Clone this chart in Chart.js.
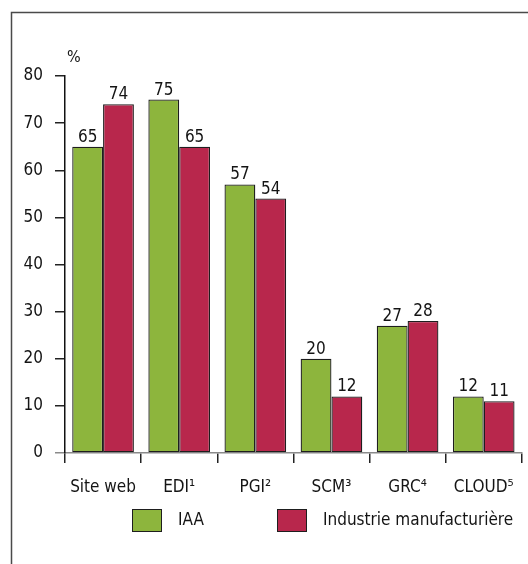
<!DOCTYPE html>
<html>
<head>
<meta charset="utf-8">
<script src="https://cdn.jsdelivr.net/npm/chart.js@4/dist/chart.umd.min.js"></script>
<style>
  html, body { margin: 0; padding: 0; background: #fff; }
  #wrap { position: relative; width: 528px; height: 564px; }
</style>
</head>
<body>
<div id="wrap"><canvas id="chart" width="528" height="564"></canvas></div>
<script>
  const categories = ['Site web', 'EDI¹', 'PGI²', 'SCM³', 'GRC⁴', 'CLOUD⁵'];
  const iaaValues = [65, 75, 57, 20, 27, 12];
  const industrieValues = [74, 65, 54, 12, 28, 11];
  const seriesNames = ['IAA', 'Industrie manufacturière'];
  const yTicks = [0, 10, 20, 30, 40, 50, 60, 70, 80];
  const unitLabel = '%';

  const FONT = "'Liberation Sans Narrow', 'DejaVu Sans Condensed', sans-serif";
  const GREEN = '#8db53d';
  const RED = '#b8274c';
  const EDGE = '#1e1e1e';
  const TEXT = '#141414';

  // frame, value labels, % unit and the legend
  const decorPlugin = {
    id: 'decor',
    beforeDraw(chart){
      const ctx = chart.ctx;
      ctx.save();
      ctx.strokeStyle = '#4a4a4a';
      ctx.lineWidth = 1.5;
      ctx.beginPath();
      ctx.moveTo(11.5, 564);
      ctx.lineTo(11.5, 12.5);
      ctx.lineTo(528, 12.5);
      ctx.stroke();
      ctx.restore();
    },
    afterDraw(chart){
      const ctx = chart.ctx;
      ctx.save();
      ctx.fillStyle = TEXT;
      ctx.font = '17px ' + FONT;
      ctx.textAlign = 'center';
      ctx.textBaseline = 'alphabetic';
      chart.data.datasets.forEach((ds, di) => {
        const meta = chart.getDatasetMeta(di);
        meta.data.forEach((bar, i) => {
          ctx.fillText(String(ds.data[i]), bar.x, bar.y - 5);
        });
      });

      // unit
      const y = chart.scales.y;
      ctx.textAlign = 'left';
      ctx.font = '16px ' + FONT;
      ctx.fillText(unitLabel, y.right + 2, 62);

      // legend
      const legendY = 509;
      const items = [
        { x: 132, color: GREEN, text: seriesNames[0] },
        { x: 277, color: RED, text: seriesNames[1] }
      ];
      ctx.font = '17px ' + FONT;
      ctx.textBaseline = 'middle';
      items.forEach(it => {
        ctx.fillStyle = it.color;
        ctx.fillRect(it.x, legendY, 30, 23);
        ctx.strokeStyle = EDGE;
        ctx.lineWidth = 1;
        ctx.strokeRect(it.x + 0.5, legendY + 0.5, 29, 22);
        ctx.fillStyle = TEXT;
        ctx.fillText(it.text, it.x + 46, legendY + 12);
      });
      ctx.restore();
    }
  };

  const ctx = document.getElementById('chart').getContext('2d');
  new Chart(ctx, {
    type: 'bar',
    data: {
      labels: categories,
      datasets: [
        {
          label: seriesNames[0],
          data: iaaValues,
          backgroundColor: GREEN,
          borderColor: EDGE,
          borderWidth: 1.3,
          borderSkipped: false,
          barPercentage: 1,
          categoryPercentage: 0.81
        },
        {
          label: seriesNames[1],
          data: industrieValues,
          backgroundColor: RED,
          borderColor: EDGE,
          borderWidth: 1.3,
          borderSkipped: false,
          barPercentage: 1,
          categoryPercentage: 0.81
        }
      ]
    },
    options: {
      responsive: false,
      animation: false,
      devicePixelRatio: 1,
      layout: { padding: { left: 0, right: 5, top: 76, bottom: 0 } },
      plugins: {
        legend: { display: false },
        tooltip: { enabled: false }
      },
      scales: {
        x: {
          grid: {
            display: true,
            drawOnChartArea: false,
            drawTicks: true,
            tickLength: 10,
            color: '#222',
            lineWidth: 1.5,
            offset: true
          },
          border: { display: true, color: '#8a8a8a', width: 1.5 },
          ticks: {
            color: TEXT,
            font: { family: FONT, size: 17 },
            padding: 14,
            autoSkip: false,
            maxRotation: 0
          },
          afterFit(scale){ scale.height = 111; }
        },
        y: {
          min: 0,
          max: 80,
          afterBuildTicks(scale){ scale.ticks = yTicks.map(v => ({ value: v })); },
          grid: {
            display: true,
            drawOnChartArea: false,
            drawTicks: true,
            tickLength: 10,
            color: ctx => ctx.tick && ctx.tick.value === 0 ? '#8a8a8a' : '#222',
            lineWidth: 1.5
          },
          border: { display: true, color: '#111', width: 1.5 },
          ticks: {
            color: TEXT,
            font: { family: FONT, size: 17 },
            padding: 12
          },
          afterFit(scale){ scale.width = 65; }
        }
      }
    },
    plugins: [decorPlugin]
  });
</script>
</body>
</html>
